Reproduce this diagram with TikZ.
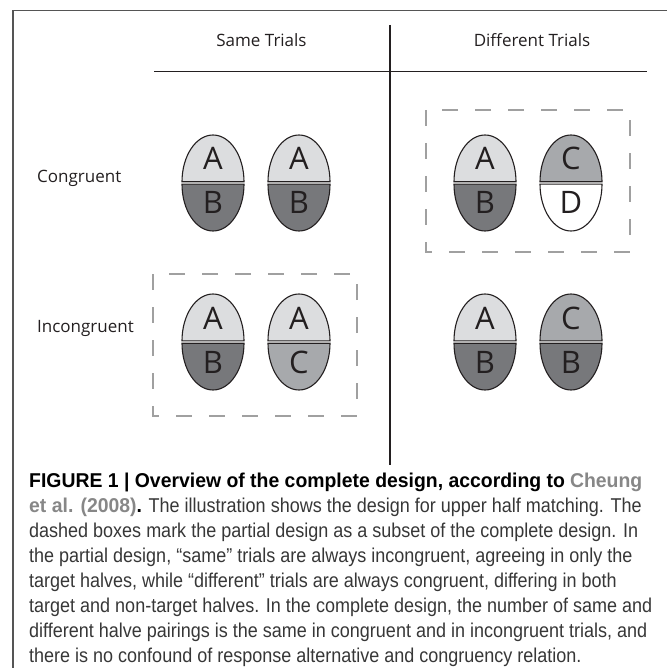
\documentclass[tikz,border=0pt]{standalone}
\usepackage{fontspec}
\setsansfont{Open Sans}
\newfontfamily\capfont[FakeStretch=0.9,BoldFeatures={FakeStretch=0.97}]{Liberation Sans}
\usepackage{tikz}

\definecolor{inkgray}{RGB}{35,31,32}
\definecolor{framegray}{RGB}{85,85,85}
\definecolor{dashgray}{RGB}{160,160,160}
\definecolor{tonelight}{RGB}{220,221,223}
\definecolor{tonemid}{RGB}{167,169,172}
\definecolor{tonedark}{RGB}{119,120,123}
\definecolor{captiongray}{RGB}{55,55,55}
\definecolor{refgray}{RGB}{135,135,135}

\tikzset{
  eggline/.style={draw=inkgray, line width=1.1pt},
  halflight/.style={eggline, fill=tonelight},
  halfmid/.style={eggline, fill=tonemid},
  halfdark/.style={eggline, fill=tonedark},
  halfwhite/.style={eggline, fill=white},
  framerule/.style={draw=framegray, line width=1.6pt},
  tablerule/.style={draw=inkgray, line width=1.2pt},
  dashbox/.style={draw=dashgray, line width=1.4pt, dash pattern=on 16pt off 17pt},
  headtext/.style={font=\sffamily\fontsize{17}{20}\selectfont, text=inkgray, inner sep=0pt},
  lettertext/.style={font=\sffamily\fontsize{31}{36}\selectfont, text=inkgray, inner sep=0pt, anchor=base},
  captext/.style={font=\capfont\fontsize{20}{25}\selectfont, text=captiongray, inner sep=0pt, anchor=base west}
}

\begin{document}
\begin{tikzpicture}[x=1pt,y=1pt,yscale=-1,xscale=1]
\useasboundingbox (0,0) rectangle (667,668);

%Frame
\draw [framerule] (13,668) -- (13,10.5) -- (667,10.5) ;

%Table rules
\draw [tablerule] (154,71.7) -- (647,71.7) ;
\draw [tablerule] (390,25) -- (390,465) ;

% Text Node
\node [headtext, anchor=base] (sameHead) at (261.5,47) {Same Trials};
\node [headtext, anchor=base] (diffHead) at (532,47) {Different Trials};
\node [headtext, anchor=base west] (congLabel) at (37,183) {Congruent};
\node [headtext, anchor=base west] (incongLabel) at (37,332) {Incongruent};

%Dashed boxes
\draw [dashbox] (426,110) rectangle (630,252) ;
\draw [dashbox] (153,274) rectangle (357,416) ;

%Same / congruent, left
\draw [halflight] (182,181.8) arc [start angle=180, end angle=360, x radius=31, y radius=46.8] -- cycle ;
\draw [halfdark] (182,184.2) arc [start angle=180, end angle=0, x radius=31, y radius=46.8] -- cycle ;
%Same / congruent, right
\draw [halflight] (268,181.8) arc [start angle=180, end angle=360, x radius=31, y radius=46.8] -- cycle ;
\draw [halfdark] (268,184.2) arc [start angle=180, end angle=0, x radius=31, y radius=46.8] -- cycle ;
%Different / congruent, left
\draw [halflight] (454,181.8) arc [start angle=180, end angle=360, x radius=31, y radius=46.8] -- cycle ;
\draw [halfdark] (454,184.2) arc [start angle=180, end angle=0, x radius=31, y radius=46.8] -- cycle ;
%Different / congruent, right
\draw [halfmid] (540,181.8) arc [start angle=180, end angle=360, x radius=31, y radius=46.8] -- cycle ;
\draw [halfwhite] (540,184.2) arc [start angle=180, end angle=0, x radius=31, y radius=46.8] -- cycle ;

%Same / incongruent, left
\draw [halflight] (182,340.8) arc [start angle=180, end angle=360, x radius=31, y radius=46.8] -- cycle ;
\draw [halfdark] (182,343.2) arc [start angle=180, end angle=0, x radius=31, y radius=46.8] -- cycle ;
%Same / incongruent, right
\draw [halflight] (268,340.8) arc [start angle=180, end angle=360, x radius=31, y radius=46.8] -- cycle ;
\draw [halfmid] (268,343.2) arc [start angle=180, end angle=0, x radius=31, y radius=46.8] -- cycle ;
%Different / incongruent, left
\draw [halflight] (454,340.8) arc [start angle=180, end angle=360, x radius=31, y radius=46.8] -- cycle ;
\draw [halfdark] (454,343.2) arc [start angle=180, end angle=0, x radius=31, y radius=46.8] -- cycle ;
%Different / incongruent, right
\draw [halfmid] (540,340.8) arc [start angle=180, end angle=360, x radius=31, y radius=46.8] -- cycle ;
\draw [halfdark] (540,343.2) arc [start angle=180, end angle=0, x radius=31, y radius=46.8] -- cycle ;

% Letters
\node [lettertext] (scTopL) at (213,170) {A};
\node [lettertext] (scBotL) at (213,214) {B};
\node [lettertext] (scTopR) at (299,170) {A};
\node [lettertext] (scBotR) at (299,214) {B};
\node [lettertext] (dcTopL) at (485,170) {A};
\node [lettertext] (dcBotL) at (485,214) {B};
\node [lettertext] (dcTopR) at (571,170) {C};
\node [lettertext] (dcBotR) at (571,214) {D};
\node [lettertext] (siTopL) at (213,329) {A};
\node [lettertext] (siBotL) at (213,373) {B};
\node [lettertext] (siTopR) at (299,329) {A};
\node [lettertext] (siBotR) at (299,373) {C};
\node [lettertext] (diTopL) at (485,329) {A};
\node [lettertext] (diBotL) at (485,373) {B};
\node [lettertext] (diTopR) at (571,329) {C};
\node [lettertext] (diBotR) at (571,373) {B};

% Caption
\node [captext] (capLine1) at (29,487) {\textcolor{black}{\bfseries FIGURE 1 | Overview of the complete design, according to} \textcolor{refgray}{\bfseries Cheung}};
\node [captext] (capLine2) at (29,512) {\textcolor{refgray}{\bfseries et al. (2008)}\textcolor{black}{\bfseries .} The illustration shows the design for upper half matching. The};
\node [captext] (capLine3) at (29,537) {dashed boxes mark the partial design as a subset of the complete design. In};
\node [captext] (capLine4) at (29,562) {the partial design, “same” trials are always incongruent, agreeing in only the};
\node [captext] (capLine5) at (29,587) {target halves, while “different” trials are always congruent, differing in both};
\node [captext] (capLine6) at (29,612) {target and non-target halves. In the complete design, the number of same and};
\node [captext] (capLine7) at (29,637) {different halve pairings is the same in congruent and in incongruent trials, and};
\node [captext] (capLine8) at (29,662) {there is no confound of response alternative and congruency relation.};

\end{tikzpicture}
\end{document}
